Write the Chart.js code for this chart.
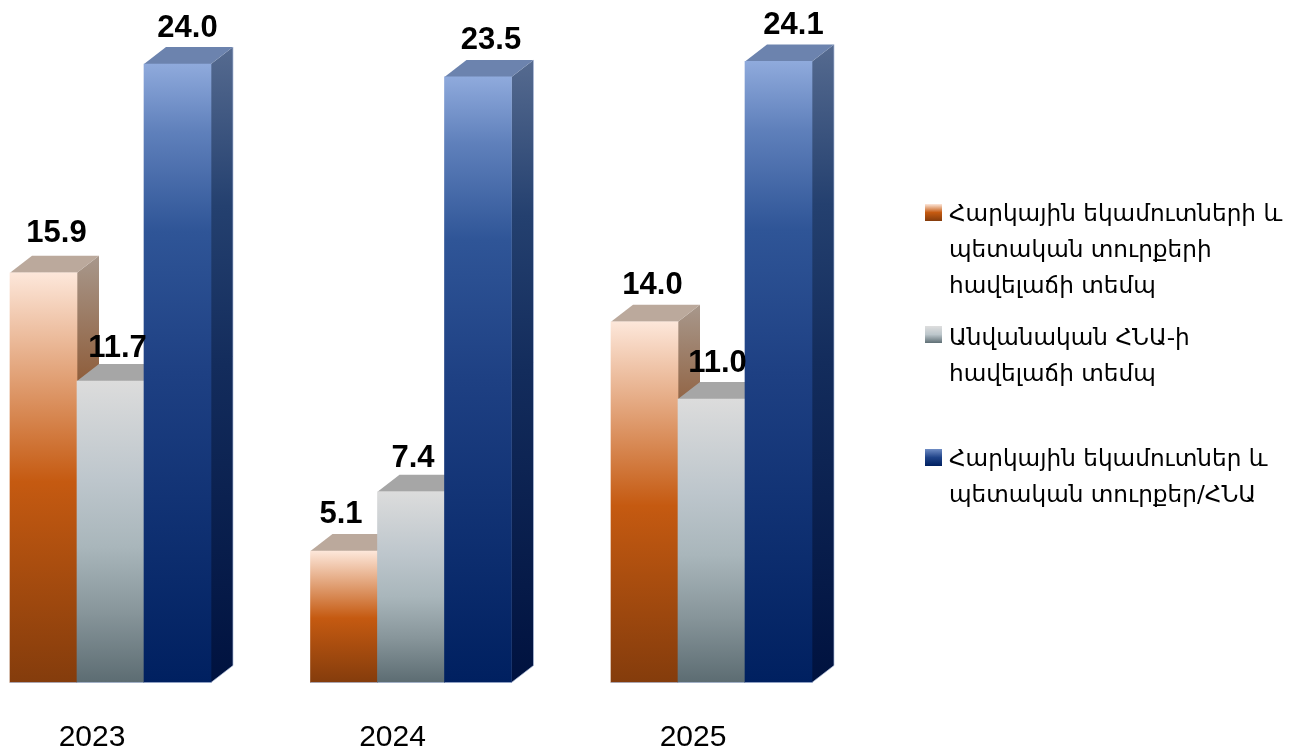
<!DOCTYPE html>
<html lang="hy">
<head>
<meta charset="utf-8">
<title>Chart</title>
<script src="https://cdn.jsdelivr.net/npm/chart.js@4"></script>
<style>html,body{margin:0;padding:0;background:#fff}canvas{display:block}</style>
</head>
<body>
<canvas id="c" width="1297" height="751"></canvas>
<script>
const years = ['2023', '2024', '2025'];
const taxGrowth = [15.9, 5.1, 14.0];
const gdpGrowth = [11.7, 7.4, 11.0];
const taxToGdp = [24.0, 23.5, 24.1];
const legendTax = ['Հարկային եկամուտների և', 'պետական տուրքերի', 'հավելաճի տեմպ'];
const legendGdp = ['Անվանական ՀՆԱ-ի', 'հավելաճի տեմպ'];
const legendRatio = ['Հարկային եկամուտներ և', 'պետական տուրքեր/ՀՆԱ'];

const DEPTH_X = 22, DEPTH_Y = 17;
const labelNudgeX = [[13, -3, 8], [7, 2, 6], [10, 13, 15]];
const labelNudgeY = [[-3, -1, 0], [3, 3, 0], [0, 0, 0]];
const palettes = [
  {front: [[0, '#fde7da'], [0.51, '#c55a11'], [1, '#843c0c']],
   side: [[0, '#a8988c'], [0.3, '#8e5c39'], [1, '#5a2a0a']], top: '#bba99c',
   swatch: [[0, '#fde7da'], [0.5, '#c55a11'], [1, '#843c0c']]},
  {front: [[0, '#dcdcdc'], [0.33, '#bdc6cc'], [0.55, '#a9b6bb'], [0.77, '#87959a'], [1, '#5c6c72']],
   side: [[0, '#8a8a8a'], [1, '#3f4c50']], top: '#a6a6a6',
   swatch: [[0, '#dedede'], [0.5, '#bcc6cb'], [1, '#5f6f75']]},
  {front: [[0, '#8faadc'], [0.11, '#5f80bb'], [0.27, '#2f5597'], [0.5, '#1e4083'], [1, '#002060']],
   side: [[0, '#566b90'], [0.25, '#24406f'], [0.5, '#132c5c'], [1, '#00123f']], top: '#6c83ae',
   swatch: [[0, '#6f8cc4'], [0.5, '#1f4388'], [1, '#002060']]}
];
const legendLayout = [{box: 204, line: 215}, {box: 326, line: 339}, {box: 449, line: 460}];
const LABEL_FONT = 'bold 31px "Liberation Sans"';
const LEGEND_FONT = '23.2px "DejaVu Sans"';
const EDGE = 'rgba(175,190,220,0.7)';

function frontGradient(ctx) {
  const {chart, datasetIndex, dataIndex, dataset} = ctx;
  if (dataIndex === undefined) return '#888';
  const y = chart.scales.y;
  const y0 = y ? y.getPixelForValue(dataset.data[dataIndex]) : NaN;
  const y1 = y ? y.getPixelForValue(0) : NaN;
  if (!isFinite(y0) || !isFinite(y1)) return palettes[datasetIndex].front[1][1];
  const g = chart.ctx.createLinearGradient(0, y0, 0, y1);
  palettes[datasetIndex].front.forEach(s => g.addColorStop(s[0], s[1]));
  return g;
}

const bars3d = {
  id: 'bars3d',
  beforeDatasetsDraw(chart) {
    const c = chart.ctx;
    chart.data.datasets.forEach((ds, di) => {
      const meta = chart.getDatasetMeta(di);
      meta.data.forEach(bar => {
        const l = bar.x - bar.width / 2, r = bar.x + bar.width / 2;
        const side = c.createLinearGradient(0, bar.y - DEPTH_Y, 0, bar.base);
        palettes[di].side.forEach(s => side.addColorStop(s[0], s[1]));
        c.fillStyle = side;
        c.beginPath();
        c.moveTo(r, bar.y);
        c.lineTo(r + DEPTH_X, bar.y - DEPTH_Y);
        c.lineTo(r + DEPTH_X, bar.base - DEPTH_Y);
        c.lineTo(r, bar.base);
        c.closePath();
        c.fill();
        c.fillStyle = palettes[di].top;
        c.beginPath();
        c.moveTo(l, bar.y);
        c.lineTo(l + DEPTH_X, bar.y - DEPTH_Y);
        c.lineTo(r + DEPTH_X, bar.y - DEPTH_Y);
        c.lineTo(r, bar.y);
        c.closePath();
        c.fill();
        bar.draw(c);
        c.strokeStyle = EDGE;
        c.lineWidth = 1;
        c.beginPath();
        c.moveTo(l, bar.base);
        c.lineTo(r, bar.base);
        if (di === 2) {
          c.lineTo(r + DEPTH_X, bar.base - DEPTH_Y);
          c.lineTo(r + DEPTH_X, bar.y - DEPTH_Y);
        }
        c.stroke();
      });
    });
    c.save();
    c.fillStyle = '#000';
    c.font = LABEL_FONT;
    c.textAlign = 'center';
    c.textBaseline = 'middle';
    chart.data.datasets.forEach((ds, di) => {
      chart.getDatasetMeta(di).data.forEach((bar, i) => {
        c.fillText(ds.data[i].toFixed(1), bar.x + labelNudgeX[di][i], bar.y - DEPTH_Y - 19 + labelNudgeY[di][i]);
      });
    });
    c.restore();
    return false;
  },
  afterDraw(chart) {
    const c = chart.ctx;
    c.save();
    c.textAlign = 'left';
    c.textBaseline = 'middle';
    c.font = LEGEND_FONT;
    chart.data.datasets.forEach((ds, di) => {
      const pos = legendLayout[di];
      const g = c.createLinearGradient(0, pos.box, 0, pos.box + 17);
      palettes[di].swatch.forEach(s => g.addColorStop(s[0], s[1]));
      c.fillStyle = g;
      c.fillRect(925, pos.box, 17, 17);
      c.fillStyle = '#000';
      ds.legendLines.forEach((t, li) => c.fillText(t, 949, pos.line + li * 36));
    });
    c.restore();
  }
};

new Chart(document.getElementById('c'), {
  type: 'bar',
  data: {
    labels: years,
    datasets: [
      {label: legendTax.join(' '), legendLines: legendTax, data: taxGrowth, backgroundColor: frontGradient, barThickness: 67},
      {label: legendGdp.join(' '), legendLines: legendGdp, data: gdpGrowth, backgroundColor: frontGradient, barThickness: 67},
      {label: legendRatio.join(' '), legendLines: legendRatio, data: taxToGdp, backgroundColor: frontGradient, barThickness: 67}
    ]
  },
  options: {
    responsive: false,
    animation: false,
    layout: {padding: {left: 110.5, right: 585.5, top: 12.48, bottom: 0}},
    plugins: {legend: {display: false}, tooltip: {enabled: false}},
    scales: {
      x: {
        offset: false,
        grid: {display: false},
        border: {display: false},
        ticks: {color: '#000', padding: 29, labelOffset: -18.5, maxRotation: 0, font: {family: '"Liberation Sans"', size: 30}},
        afterFit(s) { s.height = 68.5; }
      },
      y: {display: false, min: 0, max: 26}
    }
  },
  plugins: [bars3d]
});
</script>
</body>
</html>
